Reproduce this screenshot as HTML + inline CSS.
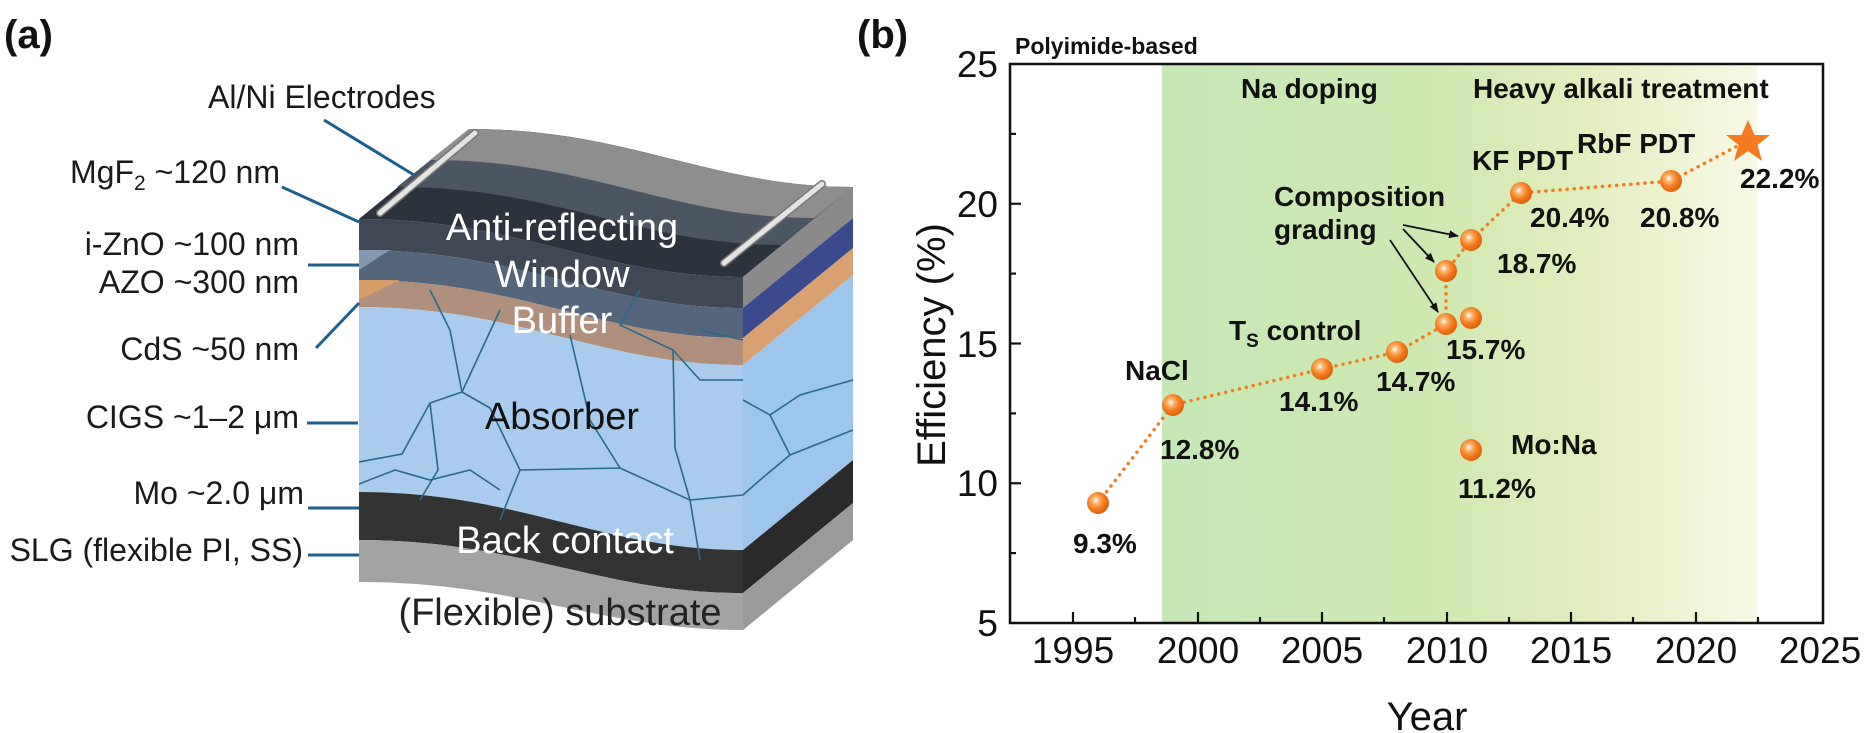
<!DOCTYPE html>
<html><head><meta charset="utf-8"><style>
html,body{margin:0;padding:0;background:#fff;}
svg{display:block;}
text{font-family:"Liberation Sans",Arial,sans-serif;}
</style></head><body>
<svg width="1869" height="733" viewBox="0 0 1869 733" xmlns="http://www.w3.org/2000/svg">
<defs>
<radialGradient id="sph" cx="40%" cy="38%" r="65%">
<stop offset="0" stop-color="#ffffff"/>
<stop offset="0.25" stop-color="#fbb36a"/>
<stop offset="0.6" stop-color="#f47b20"/>
<stop offset="1" stop-color="#d85f0a"/>
</radialGradient>
<linearGradient id="bg" x1="0" x2="1" y1="0" y2="0">
<stop offset="0" stop-color="#c6e8b6"/>
<stop offset="0.45" stop-color="#cfe8b2"/>
<stop offset="0.7" stop-color="#e2edbd"/>
<stop offset="1" stop-color="#f8f9e6"/>
</linearGradient>
<marker id="ar" markerWidth="10" markerHeight="8" refX="9" refY="4" orient="auto" markerUnits="userSpaceOnUse">
<path d="M0,0 L10,4 L0,8 Z" fill="#111"/>
</marker>
</defs>

<!-- ============ Panel (a) ============ -->
<text x="4" y="48" font-size="40" font-weight="bold" fill="#111">(a)</text>

<path d="M359,219 C520,219 600,277 743,277 L853,187 C710,187 630,129 469,129 Z" fill="#2d333d"/>
<path d="M397,187 C558,187 638,245 781,245 L853,187 C710,187 630,129 469,129 Z" fill="#4b5662"/>
<path d="M430,160 C591,160 671,218 814,218 L853,187 C710,187 630,129 469,129 Z" fill="#8e8e8e"/>

<polygon points="743,277 853,187 853,218 743,308" fill="#8a8a8a"/>
<polygon points="743,308 853,218 853,248 743,338" fill="#3b4a8c"/>
<polygon points="743,338 853,248 853,275 743,365" fill="#d9a070"/>
<polygon points="743,365 853,275 853,460 743,550" fill="#9ec6ec"/>
<polygon points="743,550 853,460 853,503 743,593" fill="#2a2a2a"/>
<polygon points="743,593 853,503 853,540 743,630" fill="#9a9a9a"/>

<path d="M359,219 C520,219 600,277 743,277 L743,308 C600,308 520,250 359,250 Z" fill="#3f4854"/>
<path d="M359,250 C520,250 600,308 743,308 L743,338 C600,338 520,280 359,280 Z" fill="#55667c"/>
<path d="M359,280 C520,280 600,338 743,338 L743,365 C600,365 520,307 359,307 Z" fill="#b08f7c"/>
<path d="M359,307 C520,307 600,365 743,365 L743,550 C600,550 520,492 359,492 Z" fill="#a9cbee"/>
<path d="M359,492 C520,492 600,550 743,550 L743,593 C600,593 520,540 359,540 Z" fill="#333333"/>
<path d="M359,540 C520,540 600,593 743,593 L743,630 C600,630 520,582 359,582 Z" fill="#a3a3a3"/>
<polygon points="359,280 400,280 359,300" fill="#e0a062" opacity="0.8"/>
<polygon points="359,250 390,250 359,270" fill="#8fa6bf" opacity="0.8"/>

<g fill="none" stroke="#2a6a8a" stroke-width="1.6">
<polyline points="500,310 462,392 430,403 402,454 359,462"/>
<polyline points="462,392 490,408 520,470 500,520"/>
<polyline points="430,403 438,470 420,500"/>
<polyline points="520,470 620,468 690,500 700,560"/>
<polyline points="570,335 590,420 620,468"/>
<polyline points="673,350 675,448 690,500"/>
<polyline points="359,484 395,470 430,480 470,470 500,490"/>
<polyline points="690,500 743,495 760,480 790,455 853,430"/>
<polyline points="743,400 770,415 800,395 853,380"/>
<polyline points="770,415 790,455"/>
<polyline points="430,290 450,330 462,392"/>
<polyline points="640,290 620,325 673,350 700,380 743,380"/>
<polyline points="700,330 743,340"/>
</g>

<line x1="380" y1="213" x2="475" y2="133" stroke="#777" stroke-width="8" stroke-linecap="round"/>
<line x1="380" y1="213" x2="475" y2="133" stroke="#e4e4e4" stroke-width="5" stroke-linecap="round"/>
<line x1="724" y1="263" x2="822" y2="184" stroke="#777" stroke-width="8" stroke-linecap="round"/>
<line x1="724" y1="263" x2="822" y2="184" stroke="#e4e4e4" stroke-width="5" stroke-linecap="round"/>

<g font-size="38" text-anchor="middle">
<text x="562" y="240" fill="#fff">Anti-reflecting</text>
<text x="562" y="287" fill="#fff">Window</text>
<text x="562" y="333" fill="#fff">Buffer</text>
<text x="562" y="429" fill="#111">Absorber</text>
<text x="565" y="553" fill="#fff">Back contact</text>
<text x="560" y="625" fill="#222">(Flexible) substrate</text>
</g>

<g stroke="#1f5f8b" stroke-width="3">
<line x1="324" y1="120" x2="414" y2="175"/>
<line x1="282" y1="187" x2="359" y2="222"/>
<line x1="308" y1="265" x2="359" y2="265"/>
<line x1="316" y1="348" x2="359" y2="303"/>
<line x1="307" y1="423" x2="358" y2="423"/>
<line x1="308" y1="508" x2="359" y2="508"/>
<line x1="308" y1="555" x2="359" y2="555"/>
</g>
<g font-size="32" fill="#1a1a1a">
<text x="208" y="108">Al/Ni Electrodes</text>
<text x="280" y="183" text-anchor="end">MgF<tspan font-size="21" dy="7">2</tspan><tspan dy="-7"> ~120 nm</tspan></text>
<text x="299" y="255" text-anchor="end">i-ZnO ~100 nm</text>
<text x="299" y="293" text-anchor="end">AZO ~300 nm</text>
<text x="299" y="360" text-anchor="end">CdS ~50 nm</text>
<text x="299" y="428" text-anchor="end">CIGS ~1–2 μm</text>
<text x="304" y="504" text-anchor="end">Mo ~2.0 μm</text>
<text x="303" y="561" text-anchor="end">SLG (flexible PI, SS)</text>
</g>

<!-- ============ Panel (b) ============ -->
<text x="857" y="48" font-size="40" font-weight="bold" fill="#111">(b)</text>
<text x="1015" y="54" font-size="23" font-weight="bold" fill="#111">Polyimide-based</text>

<rect x="1162" y="65" width="595" height="557" fill="url(#bg)"/>
<rect x="1010" y="64" width="813" height="559" fill="none" stroke="#111" stroke-width="2.5"/>

<g stroke="#111" stroke-width="2.2">
<line x1="1010" y1="483.25" x2="1021" y2="483.25"/>
<line x1="1010" y1="343.5" x2="1021" y2="343.5"/>
<line x1="1010" y1="203.75" x2="1021" y2="203.75"/>
<line x1="1010" y1="553.1" x2="1016" y2="553.1"/>
<line x1="1010" y1="413.4" x2="1016" y2="413.4"/>
<line x1="1010" y1="273.6" x2="1016" y2="273.6"/>
<line x1="1010" y1="133.9" x2="1016" y2="133.9"/>
<line x1="1073" y1="623" x2="1073" y2="612"/>
<line x1="1198" y1="623" x2="1198" y2="612"/>
<line x1="1322" y1="623" x2="1322" y2="612"/>
<line x1="1447" y1="623" x2="1447" y2="612"/>
<line x1="1571" y1="623" x2="1571" y2="612"/>
<line x1="1696" y1="623" x2="1696" y2="612"/>
<line x1="1135" y1="623" x2="1135" y2="617"/>
<line x1="1260" y1="623" x2="1260" y2="617"/>
<line x1="1384" y1="623" x2="1384" y2="617"/>
<line x1="1509" y1="623" x2="1509" y2="617"/>
<line x1="1633" y1="623" x2="1633" y2="617"/>
<line x1="1758" y1="623" x2="1758" y2="617"/>
</g>
<g font-size="37" fill="#111" text-anchor="end">
<text x="998" y="636">5</text>
<text x="998" y="496">10</text>
<text x="998" y="357">15</text>
<text x="998" y="217">20</text>
<text x="998" y="77">25</text>
</g>
<g font-size="37" fill="#111" text-anchor="middle">
<text x="1073" y="663">1995</text>
<text x="1198" y="663">2000</text>
<text x="1322" y="663">2005</text>
<text x="1447" y="663">2010</text>
<text x="1571" y="663">2015</text>
<text x="1696" y="663">2020</text>
<text x="1820" y="663">2025</text>
</g>
<text x="1427" y="730" font-size="40" fill="#111" text-anchor="middle">Year</text>
<text transform="translate(945,345) rotate(-90)" font-size="40" fill="#111" text-anchor="middle">Efficiency (%)</text>

<polyline points="1098,503 1173,405 1322,369 1397,352 1446,324 1446,271 1471,240 1521,193 1671,181 1745,142" fill="none" stroke="#f47b20" stroke-width="3.5" stroke-dasharray="0.1 7" stroke-linecap="round"/>

<g stroke="#111" stroke-width="1.8" fill="none">
<line x1="1403" y1="225" x2="1458" y2="236" marker-end="url(#ar)"/>
<line x1="1403" y1="229" x2="1434" y2="262" marker-end="url(#ar)"/>
<line x1="1390" y1="240" x2="1438" y2="312" marker-end="url(#ar)"/>
</g>

<g fill="url(#sph)">
<circle cx="1098" cy="503" r="11"/>
<circle cx="1173" cy="405" r="11"/>
<circle cx="1322" cy="369" r="11"/>
<circle cx="1397" cy="352" r="11"/>
<circle cx="1446" cy="324" r="11"/>
<circle cx="1446" cy="271" r="11"/>
<circle cx="1471" cy="240" r="11"/>
<circle cx="1471" cy="318" r="11"/>
<circle cx="1471" cy="450" r="11"/>
<circle cx="1521" cy="193" r="11"/>
<circle cx="1671" cy="181" r="11"/>
</g>
<polygon points="1748,120 1754.5,135 1770,135 1757.5,145 1762,161 1748,151 1734,161 1738.5,145 1726,135 1741.5,135" fill="#f47b20"/>

<g font-size="28" font-weight="bold" fill="#111">
<text x="1073" y="553">9.3%</text>
<text x="1160" y="459">12.8%</text>
<text x="1125" y="380">NaCl</text>
<text x="1279" y="411">14.1%</text>
<text x="1376" y="391">14.7%</text>
<text x="1229" y="340">T<tspan font-size="19" dy="7">S</tspan><tspan dy="-7"> control</tspan></text>
<text x="1446" y="359">15.7%</text>
<text x="1497" y="273">18.7%</text>
<text x="1274" y="206">Composition</text>
<text x="1274" y="239">grading</text>
<text x="1458" y="498">11.2%</text>
<text x="1511" y="454">Mo:Na</text>
<text x="1241" y="98">Na doping</text>
<text x="1473" y="98">Heavy alkali treatment</text>
<text x="1472" y="170">KF PDT</text>
<text x="1530" y="227">20.4%</text>
<text x="1640" y="227">20.8%</text>
<text x="1577" y="153">RbF PDT</text>
<text x="1740" y="188">22.2%</text>
</g>
</svg>
</body></html>
